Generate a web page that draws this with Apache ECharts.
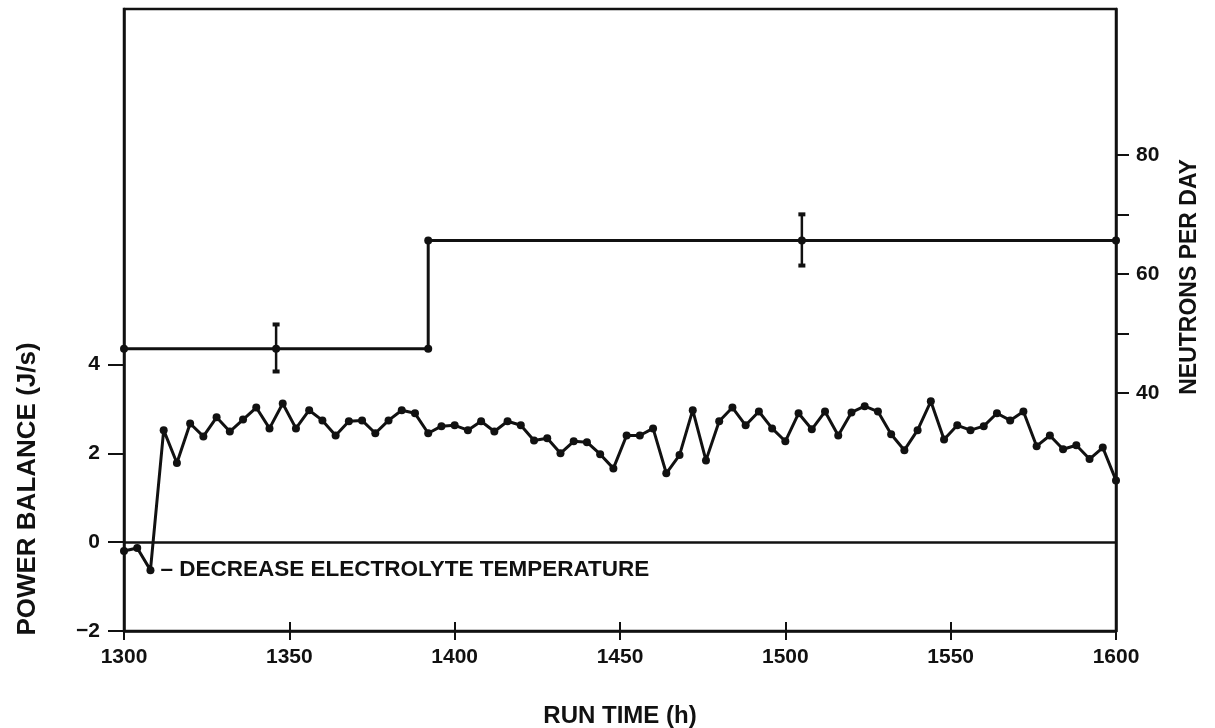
<!DOCTYPE html>
<html>
<head>
<meta charset="utf-8">
<script src="https://cdn.jsdelivr.net/npm/echarts@6/dist/echarts.min.js"></script>
<style>
html,body{margin:0;padding:0;background:#fff;}
#chart{width:1215px;height:728px;}
</style>
</head>
<body>
<div id="chart"></div>
<script>
// ---- data ----
var runTime = [1300,1304,1308,1312,1316,1320,1324,1328,1332,1336,1340,1344,1348,1352,1356,1360,1364,1368,1372,1376,
  1380,1384,1388,1392,1396,1400,1404,1408,1412,1416,1420,1424,1428,1432,1436,1440,1444,1448,1452,1456,
  1460,1464,1468,1472,1476,1480,1484,1488,1492,1496,1500,1504,1508,1512,1516,1520,1524,1528,1532,1536,
  1540,1544,1548,1552,1556,1560,1564,1568,1572,1576,1580,1584,1588,1592,1596,1600];
var powerBalance = [-0.20,-0.13,-0.63,2.52,1.78,2.67,2.38,2.81,2.49,2.76,3.03,2.56,3.12,2.56,2.97,2.74,2.40,2.72,2.74,2.45,
  2.74,2.97,2.90,2.45,2.61,2.63,2.52,2.72,2.49,2.72,2.63,2.29,2.34,2.00,2.27,2.25,1.98,1.66,2.40,2.40,
  2.56,1.55,1.96,2.97,1.84,2.72,3.03,2.63,2.94,2.56,2.27,2.90,2.54,2.94,2.40,2.92,3.06,2.94,2.43,2.07,
  2.52,3.17,2.31,2.63,2.52,2.61,2.90,2.74,2.94,2.16,2.40,2.09,2.18,1.87,2.13,1.39];

var neutronTime = [1300, 1392, 1392, 1600];
var neutronRate = [47.4, 47.4, 65.6, 65.6];

var errTime = [1346, 1505];
var errMid  = [47.4, 65.6];
var errLow  = [43.6, 61.4];
var errHigh = [51.5, 70.0];

var xTicks = [1300, 1350, 1400, 1450, 1500, 1550, 1600];
var leftTicks = [-2, 0, 2, 4];
var rightTicks = [40, 50, 60, 70, 80];
var rightLabels = [40, 60, 80];

var annotationText = '\u2013 DECREASE ELECTROLYTE TEMPERATURE';
var annotationIndex = 2;

// ---- chart ----
var FONT = '"Liberation Sans", Arial, sans-serif';
var INK = '#111';
var chart = echarts.init(document.getElementById('chart'), null, {renderer: 'canvas'});

var powerData = runTime.map(function (t, i) { return [t, powerBalance[i]]; });
var neutronData = neutronTime.map(function (t, i) { return [t, neutronRate[i]]; });
var errData = errTime.map(function (t, i) { return [t, errMid[i], errLow[i], errHigh[i]]; });

var option = {
  backgroundColor: '#fff',
  animation: false,
  grid: {left: 124, right: 99, top: 9, bottom: 97, show: true, borderColor: INK, borderWidth: 2.5, containLabel: false},
  xAxis: [{
    type: 'value', min: 1300, max: 1600, interval: 50, position: 'bottom',
    axisLine: {show: true, onZero: false, lineStyle: {color: INK, width: 2.5}},
    axisTick: {show: true, inside: false, length: 9, lineStyle: {color: INK, width: 2}, customValues: xTicks},
    axisLabel: {show: true, margin: 16, color: INK, fontFamily: FONT, fontWeight: 'bold', fontSize: 21,
      customValues: xTicks, formatter: function (v) { return String(v); }},
    splitLine: {show: false}
  }, {
    type: 'value', min: 1300, max: 1600, interval: 50, position: 'bottom',
    axisLine: {show: false, onZero: false},
    axisTick: {show: true, inside: true, length: 9, lineStyle: {color: INK, width: 2}, customValues: xTicks},
    axisLabel: {show: false},
    splitLine: {show: false}
  }],
  yAxis: [{
    type: 'value', min: -2, max: 12, interval: 2, position: 'left',
    axisLine: {show: true, onZero: false, lineStyle: {color: INK, width: 2.5}},
    axisTick: {show: true, inside: false, length: 16, lineStyle: {color: INK, width: 2}, customValues: leftTicks},
    axisLabel: {show: true, margin: 24, color: INK, fontFamily: FONT, fontWeight: 'bold', fontSize: 21,
      customValues: leftTicks,
      formatter: function (v) { return v < 0 ? '\u2212' + Math.abs(v) : String(v); }},
    splitLine: {show: false}
  }, {
    type: 'value', min: 0, max: 104.5, position: 'right',
    axisLine: {show: true, onZero: false, lineStyle: {color: INK, width: 2.5}},
    axisTick: {show: true, inside: false, length: 13, lineStyle: {color: INK, width: 2}, customValues: rightTicks},
    axisLabel: {show: true, margin: 20, color: INK, fontFamily: FONT, fontWeight: 'bold', fontSize: 21, customValues: rightLabels},
    splitLine: {show: false}
  }],
  graphic: [{
    type: 'text', x: 28, y: 489, rotation: Math.PI / 2,
    style: {text: 'POWER BALANCE (J/s)', fill: INK, font: 'bold 26px ' + FONT, textAlign: 'center', textVerticalAlign: 'middle'}
  }, {
    type: 'text', x: 1190, y: 277, rotation: Math.PI / 2,
    style: {text: 'NEUTRONS PER DAY', fill: INK, font: 'bold 23px ' + FONT, textAlign: 'center', textVerticalAlign: 'middle'}
  }, {
    type: 'text', x: 620, y: 716,
    style: {text: 'RUN TIME (h)', fill: INK, font: 'bold 24px ' + FONT, textAlign: 'center', textVerticalAlign: 'middle'}
  }],
  series: [{
    name: 'power', type: 'line', xAxisIndex: 0, yAxisIndex: 0,
    data: powerData,
    symbol: 'circle', symbolSize: 8, showSymbol: true,
    itemStyle: {color: INK}, lineStyle: {color: INK, width: 3},
    z: 5,
    markLine: {
      silent: true, symbol: ['none', 'none'], label: {show: false},
      lineStyle: {color: INK, width: 2.6, type: 'solid', opacity: 1},
      emphasis: {disabled: true},
      data: [{yAxis: 0}]
    }
  }, {
    name: 'annotation', type: 'scatter', xAxisIndex: 0, yAxisIndex: 0,
    data: [powerData[annotationIndex]], symbolSize: 0,
    itemStyle: {opacity: 1, color: INK},
    label: {show: true, position: 'right', distance: 10, formatter: annotationText,
      color: INK, fontFamily: FONT, fontWeight: 'bold', fontSize: 22.5}
  }, {
    name: 'neutrons', type: 'line', xAxisIndex: 0, yAxisIndex: 1,
    data: neutronData,
    symbol: 'circle', symbolSize: 8,
    itemStyle: {color: INK}, lineStyle: {color: INK, width: 3}
  }, {
    name: 'errors', type: 'custom', xAxisIndex: 0, yAxisIndex: 1,
    data: errData,
    renderItem: function (params, api) {
      var x = api.value(0);
      var mid = api.coord([x, api.value(1)]);
      var lo = api.coord([x, api.value(2)]);
      var hi = api.coord([x, api.value(3)]);
      var st = {stroke: INK, lineWidth: 2.5};
      return {type: 'group', children: [
        {type: 'line', shape: {x1: lo[0], y1: lo[1], x2: hi[0], y2: hi[1]}, style: st},
        {type: 'line', shape: {x1: lo[0] - 3.5, y1: lo[1], x2: lo[0] + 3.5, y2: lo[1]}, style: {stroke: INK, lineWidth: 4}},
        {type: 'line', shape: {x1: hi[0] - 3.5, y1: hi[1], x2: hi[0] + 3.5, y2: hi[1]}, style: {stroke: INK, lineWidth: 4}},
        {type: 'circle', shape: {cx: mid[0], cy: mid[1], r: 4}, style: {fill: INK}}
      ]};
    }
  }]
};
chart.setOption(option);
</script>
</body>
</html>
